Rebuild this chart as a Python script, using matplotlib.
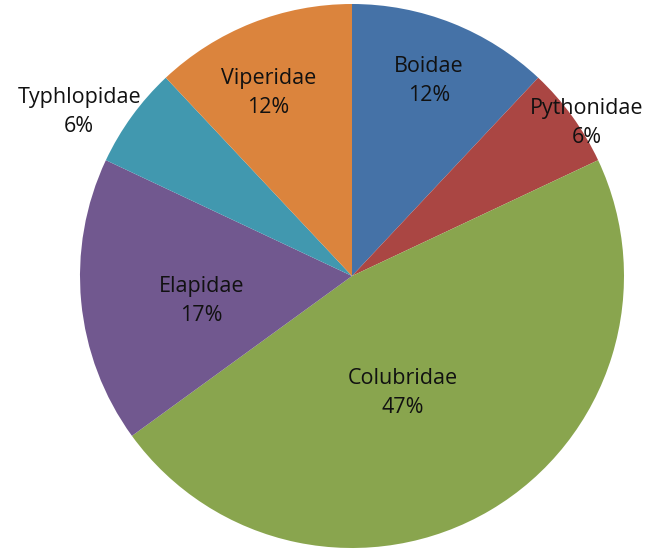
import numpy as np
import matplotlib
matplotlib.use("Agg")
import matplotlib.pyplot as plt

# snake families, share in percent
families = ["Boidae", "Pythonidae", "Colubridae", "Elapidae", "Typhlopidae", "Viperidae"]
shares = [12, 6, 47, 17, 6, 12]
colors = ["#4572A7", "#AA4643", "#89A54E", "#71588F", "#4198AF", "#DB843D"]

# label placement (fraction of radius, angle tweak in degrees)
label_r = [0.77, 1.03, 0.47, 0.56, 1.17, 0.74]
label_dang = [0, -3, -7, 4, 5, 3]

fig = plt.figure(figsize=(6.71, 5.52), dpi=100)
ax = fig.add_axes([0, 0, 1, 1])

wedges, _ = ax.pie(shares, colors=colors, startangle=90, counterclock=False,
                   radius=1.0, center=(0, 0))

for w, name, val, r, da in zip(wedges, families, shares, label_r, label_dang):
    mid = np.deg2rad((w.theta1 + w.theta2) / 2 + da)
    ax.text(r * np.cos(mid), r * np.sin(mid), "%s\n%d%%" % (name, val),
            ha="center", va="center", fontsize=15.5, color="#111111",
            family="Open Sans", linespacing=1.5)

# pie centre at (352, 276) px with radius ~272 px
px_per_unit = 272.0
cx, cy = 352, 276
ax.set_xlim(-cx / px_per_unit, (671 - cx) / px_per_unit)
ax.set_ylim(-(552 - cy) / px_per_unit, cy / px_per_unit)
ax.set_aspect("auto")
ax.axis("off")

fig.savefig("out.png", dpi=100)
